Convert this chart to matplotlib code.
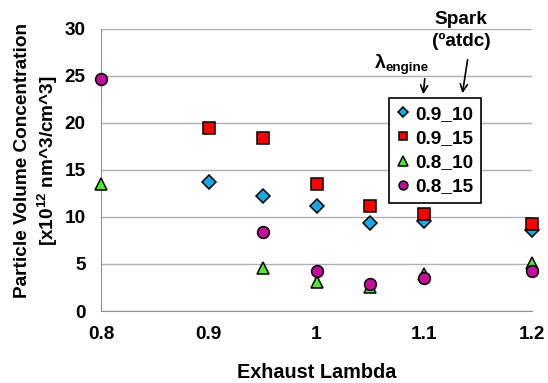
import matplotlib
matplotlib.use("Agg")
import matplotlib.pyplot as plt

plt.rcParams['font.family'] = ['Liberation Sans', 'DejaVu Sans']
plt.rcParams['font.weight'] = 'bold'
plt.rcParams['mathtext.fontset'] = 'custom'
plt.rcParams['mathtext.rm'] = 'Liberation Sans:bold'
plt.rcParams['mathtext.bf'] = 'Liberation Sans:bold'

lam_09_10 = [0.9, 0.95, 1.0, 1.05, 1.1, 1.2]
val_09_10 = [13.7, 12.2, 11.2, 9.3, 9.6, 8.6]
lam_09_15 = [0.9, 0.95, 1.0, 1.05, 1.1, 1.2]
val_09_15 = [19.4, 18.4, 13.5, 11.1, 10.3, 9.25]
lam_08_10 = [0.8, 0.95, 1.0, 1.05, 1.1, 1.2]
val_08_10 = [13.5, 4.6, 3.1, 2.6, 3.9, 5.1]
lam_08_15 = [0.8, 0.95, 1.0, 1.05, 1.1, 1.2]
val_08_15 = [24.6, 8.4, 4.3, 2.9, 3.5, 4.3]

labels = ['0.9_10', '0.9_15', '0.8_10', '0.8_15']
xticks = [0.8, 0.9, 1.0, 1.1, 1.2]
xticklabels = ['0.8', '0.9', '1', '1.1', '1.2']
yticks = [0, 5, 10, 15, 20, 25, 30]

FS = 13.7
W, H = 548, 383
fig = plt.figure(figsize=(5.48, 3.83), dpi=100)
ax = fig.add_axes([101/W, 1 - 311/H, (532-101)/W, (311-28.5)/H])

ax.plot(lam_09_10, val_09_10, 'D', ms=7, mfc='#1aa7e6', mec='black', mew=1.1, ls='none', label=labels[0], clip_on=False, zorder=3)
ax.plot(lam_09_15, val_09_15, 's', ms=8.5, mfc='#ff0000', mec='black', mew=1.1, ls='none', label=labels[1], clip_on=False, zorder=3)
ax.plot(lam_08_10, val_08_10, '^', ms=9, mfc='#55e634', mec='black', mew=1.1, ls='none', label=labels[2], clip_on=False, zorder=3)
ax.plot(lam_08_15, val_08_15, 'o', ms=8.5, mfc='#c0109a', mec='black', mew=1.1, ls='none', label=labels[3], clip_on=False, zorder=3)

ax.set_xlim(0.8, 1.2)
ax.set_ylim(0, 30)
ax.set_xticks(xticks)
ax.set_xticklabels(xticklabels)
ax.set_yticks(yticks)
ax.tick_params(length=0, labelsize=FS)
ax.tick_params(axis='y', pad=11)
ax.tick_params(axis='x', pad=11)
for lab in ax.get_xticklabels() + ax.get_yticklabels():
    lab.set_fontweight('bold')
ax.yaxis.grid(True, color='#b0b0b0', lw=1)
ax.set_axisbelow(True)
for s in ['top', 'right']:
    ax.spines[s].set_visible(False)
for s in ['left', 'bottom']:
    ax.spines[s].set_color('#909090')

ax.set_xlabel('Exhaust Lambda', fontsize=14.3, fontweight='bold', va='center')
ax.xaxis.set_label_coords(0.501, (311-372)/282.5)
ax.set_ylabel('Particle Volume Concentration\n[x10$^{12}$ nm^3/cm^3]', fontsize=FS,
              fontweight='bold', va='center', linespacing=1.25)
ax.yaxis.set_label_coords((37-101)/431, (311-161)/282.5)

leg = ax.legend(loc='upper left', bbox_to_anchor=(389/W, 1 - 98/H), bbox_transform=fig.transFigure,
                frameon=True, fancybox=False, edgecolor='black', framealpha=1,
                handlelength=0.7, handletextpad=0.3, borderpad=0.4, labelspacing=0.36,
                prop={'size': FS, 'weight': 'bold'}, borderaxespad=0, markerscale=0.75)
leg.get_frame().set_linewidth(1.2)

fig.text(461/W, 1 - 20/H, 'Spark', ha='center', va='center', fontsize=FS, fontweight='bold')
fig.text(461/W, 1 - 41/H, '(ºatdc)', ha='center', va='center', fontsize=FS, fontweight='bold')
fig.text(375/W, 1 - 64/H, 'λ', ha='left', va='center', fontsize=14, fontweight='bold')
fig.text(386/W, 1 - 68/H, 'engine', ha='left', va='center', fontsize=9.6, fontweight='bold')
ax.annotate('', xy=(423/W, 1 - 97/H), xytext=(425/W, 1 - 76/H), xycoords='figure fraction',
            arrowprops=dict(arrowstyle='->', lw=1.2, color='black', mutation_scale=13))
ax.annotate('', xy=(462/W, 1 - 96/H), xytext=(468/W, 1 - 57/H), xycoords='figure fraction',
            arrowprops=dict(arrowstyle='->', lw=1.2, color='black', mutation_scale=13))

fig.savefig('out.png', dpi=100)
